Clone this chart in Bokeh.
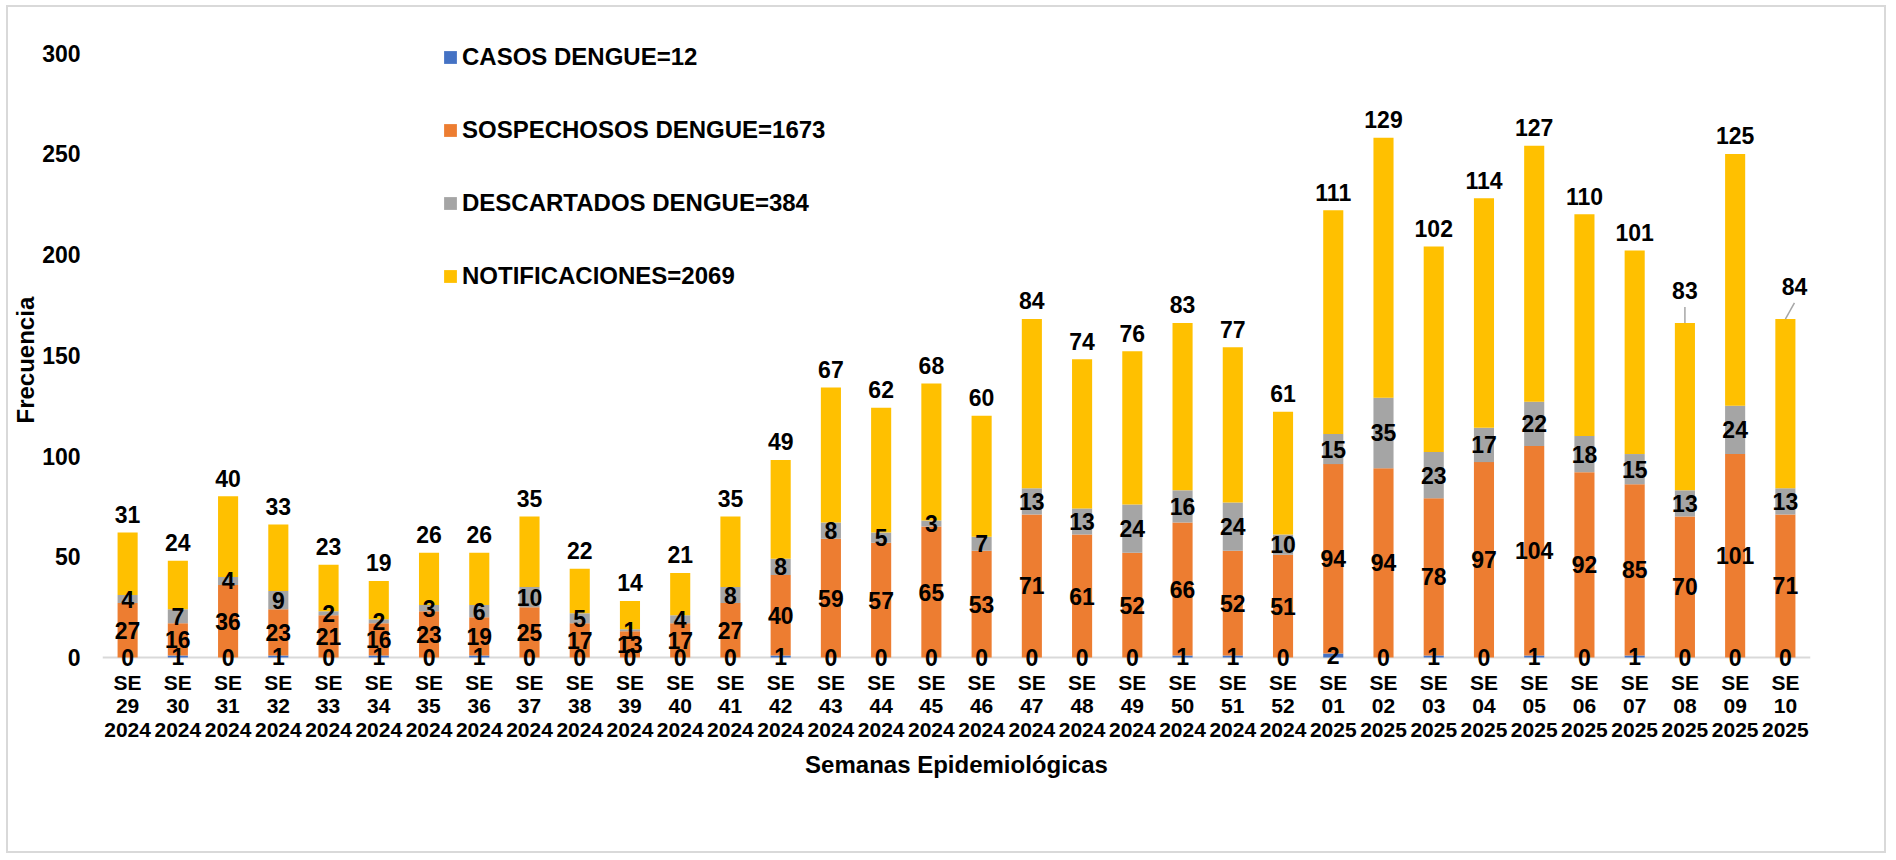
from bokeh.plotting import figure
from bokeh.models import (Range1d, FixedTicker, Legend, LegendItem, ColumnDataSource,
                          Span, Title)
from bokeh.core.properties import value
from bokeh.embed import file_html
from bokeh.resources import INLINE

# ---------------- data ----------------
weeks = ["29", "30", "31", "32", "33", "34", "35", "36", "37", "38", "39", "40",
         "41", "42", "43", "44", "45", "46", "47", "48", "49", "50", "51", "52",
         "01", "02", "03", "04", "05", "06", "07", "08", "09", "10"]
years = ["2024"] * 24 + ["2025"] * 10
casos = [0, 1, 0, 1, 0, 1, 0, 1, 0, 0, 0, 0, 0, 1, 0, 0, 0, 0, 0, 0, 0, 1, 1, 0,
         2, 0, 1, 0, 1, 0, 1, 0, 0, 0]
sospechosos = [27, 16, 36, 23, 21, 16, 23, 19, 25, 17, 13, 17, 27, 40, 59, 57, 65, 53,
               71, 61, 52, 66, 52, 51, 94, 94, 78, 97, 104, 92, 85, 70, 101, 71]
descartados = [4, 7, 4, 9, 2, 2, 3, 6, 10, 5, 1, 4, 8, 8, 8, 5, 3, 7, 13, 13, 24, 16,
               24, 10, 15, 35, 23, 17, 22, 18, 15, 13, 24, 13]
notificaciones = [31, 24, 40, 33, 23, 19, 26, 26, 35, 22, 14, 21, 35, 49, 67, 62, 68,
                  60, 84, 74, 76, 83, 77, 61, 111, 129, 102, 114, 127, 110, 101, 83,
                  125, 84]
series_names = ["CASOS DENGUE=12", "SOSPECHOSOS DENGUE=1673",
                "DESCARTADOS DENGUE=384", "NOTIFICACIONES=2069"]
y_ticks = [0, 50, 100, 150, 200, 250, 300]

# ---------------- styles ----------------
colors = ["#4472C4", "#ED7D31", "#A5A5A5", "#FFC000"]
FONT_NAME = "Liberation Sans"
FONT = value(FONT_NAME)
LBL_SIZE = "23px"
TOP_GAP = 9.0          # gap (data units) between bar top and centre of its total label
# labels moved by hand in the original (with leader lines): index -> (dx units, extra dy units)
moved = {31: (0.0, 7.35), 33: (0.18, 7.35)}
LEADER_LEN = 8.0

n = len(weeks)
xs = [i + 0.5 for i in range(n)]
tick_labels = {xs[i]: "SE\n%s\n%s" % (weeks[i], years[i]) for i in range(n)}

c1 = [casos[i] for i in range(n)]
c2 = [casos[i] + sospechosos[i] for i in range(n)]
c3 = [c2[i] + descartados[i] for i in range(n)]
top = [c3[i] + notificaciones[i] for i in range(n)]

src = ColumnDataSource(dict(
    x=xs, casos=casos, sosp=sospechosos, desc=descartados, notif=notificaciones,
    y_c=[casos[i] / 2 for i in range(n)],
    y_s=[c1[i] + sospechosos[i] / 2 for i in range(n)],
    y_d=[c2[i] + descartados[i] / 2 for i in range(n)],
    y_n=[top[i] + TOP_GAP + moved.get(i, (0, 0))[1] for i in range(n)],
    x_n=[xs[i] + moved.get(i, (0, 0))[0] for i in range(n)],
    t_c=[str(v) for v in casos],
    t_s=[str(v) for v in sospechosos],
    t_d=[str(v) for v in descartados],
    t_n=[str(v) for v in notificaciones],
))

p = figure(width=1880, height=848, x_range=Range1d(0, n), y_range=Range1d(-7.45, 320.2),
           output_backend="svg", toolbar_location=None,
           min_border_left=93, min_border_right=78, min_border_top=5,
           min_border_bottom=183,
           styles={"border": "2px solid #D9D9D9", "margin-left": "6px",
                   "margin-top": "5px"})
p.outline_line_color = None
p.xgrid.visible = False
p.ygrid.visible = False

# baseline (category axis line) at y = 0
p.add_layout(Span(location=0, dimension="width", line_color="#D9D9D9",
                  line_width=2, level="underlay"))

rs = p.vbar_stack(["casos", "sosp", "desc", "notif"], x="x", width=0.4,
                  fill_color=colors, line_color=None, source=src)

common = dict(source=src, text_font=FONT, text_font_style="bold",
              text_font_size=LBL_SIZE, text_color="black", text_align="center",
              text_baseline="middle")
p.text(x="x", y="y_c", text="t_c", **common)
p.text(x="x", y="y_s", text="t_s", **common)
p.text(x="x", y="y_d", text="t_d", **common)
p.text(x="x_n", y="y_n", text="t_n", **common)

# leader lines for the moved labels
lx0 = [xs[i] for i in moved]
ly0 = [top[i] for i in moved]
lx1 = [xs[i] + moved[i][0] for i in moved]
ly1 = [top[i] + LEADER_LEN for i in moved]
p.segment(x0=lx0, y0=ly0, x1=lx1, y1=ly1, line_color="#A6A6A6", line_width=1.5)

# axes
for ax in (p.xaxis, p.yaxis):
    ax.major_tick_line_color = None
    ax.minor_tick_line_color = None
    ax.major_tick_out = 0
    ax.major_tick_in = 0
    ax.minor_tick_out = 0
    ax.minor_tick_in = 0
    ax.axis_line_color = None
    ax.major_label_text_font = FONT_NAME
    ax.major_label_text_font_style = "bold"
    ax.major_label_text_color = "black"

p.yaxis.ticker = FixedTicker(ticks=y_ticks)
p.yaxis.major_label_standoff = 22
p.yaxis.major_label_text_font_size = "23px"

p.xaxis.ticker = FixedTicker(ticks=xs)
p.xaxis.major_label_overrides = tick_labels
p.xaxis.major_label_standoff = -2
p.xaxis.major_label_text_font_size = "21px"
p.xaxis.major_label_text_line_height = 1.04


def make_title(text, align, offset, standoff):
    kw = dict(text=text, align=align, offset=offset, text_font=FONT_NAME,
              text_font_style="bold", text_font_size="24px", text_color="black")
    try:
        return Title(standoff=standoff, **kw)
    except AttributeError:
        return Title(**kw)


p.add_layout(make_title("Frecuencia", "left", 249, 2), "left")
p.add_layout(make_title("Semanas Epidemiológicas", "center", 0, 8), "below")

legend = Legend(items=[LegendItem(label=series_names[i], renderers=[rs[i]]) for i in range(4)],
                location=(340, 382), orientation="vertical",
                glyph_width=16, glyph_height=16, label_height=16, spacing=45,
                padding=0, margin=0, label_standoff=4,
                border_line_color=None, background_fill_alpha=0,
                label_text_font=FONT_NAME, label_text_font_style="bold",
                label_text_font_size="24px", label_text_color="black")
p.add_layout(legend)

open("out.html", "w").write(file_html(p, INLINE))
